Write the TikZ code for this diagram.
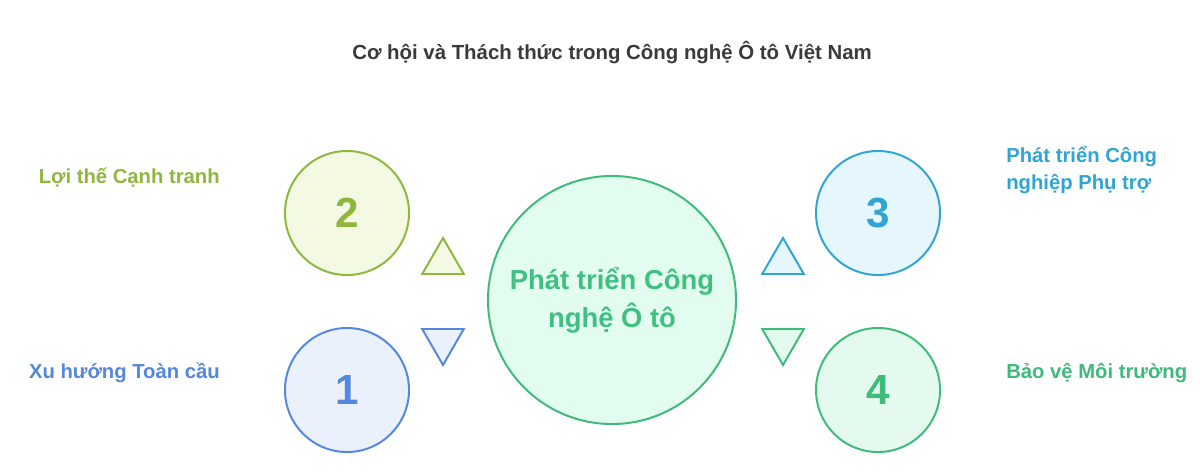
\documentclass[tikz,border=0pt]{standalone}
\usepackage{fontspec}
\setmainfont{Liberation Sans}
\usepackage{xcolor}
\usetikzlibrary{shapes.geometric, positioning}
\definecolor{titlegray}{HTML}{3A3A3A}
\definecolor{oliveline}{HTML}{8FB63E}
\definecolor{olivefill}{HTML}{F4F9E3}
\definecolor{blueline}{HTML}{5487DD}
\definecolor{bluefill}{HTML}{EBF1FC}
\definecolor{cyanline}{HTML}{30A4D3}
\definecolor{cyanfill}{HTML}{E6F6FD}
\definecolor{greenline}{HTML}{3EBA7A}
\definecolor{greenfill}{HTML}{E4FAEE}
\definecolor{hubfill}{HTML}{E3FCF0}
\definecolor{hubtext}{HTML}{40C080}
\tikzset{
    stage/.style={
        circle,
        draw,
        line width=1.4pt,
        minimum size=3.1cm,
        inner sep=0pt,
        font=\fontsize{30}{30}\selectfont\bfseries
    },
    hub/.style={
        circle,
        draw=greenline,
        fill=hubfill,
        line width=1.4pt,
        minimum size=6.2cm,
        inner sep=0pt,
        align=center,
        text=hubtext,
        font=\fontsize{19.5}{27}\selectfont\bfseries
    },
    flag/.style={
        font=\fontsize{14.4}{19.5}\selectfont\bfseries,
        align=left,
        inner sep=0pt
    },
    uptri/.style={
        regular polygon,
        regular polygon sides=3,
        draw,
        line width=1.4pt,
        minimum size=1.2cm,
        inner sep=0pt
    },
    downtri/.style={
        uptri,
        shape border rotate=180
    }
}
\begin{document}
\begin{tikzpicture}[x=0.025cm, y=-0.025cm]

\fill[white] (0,0) rectangle (1200,474);
\useasboundingbox (0,0) rectangle (1200,474);

% Title
\node[font=\fontsize{14.5}{17}\selectfont\bfseries, text=titlegray] (title) at (612,53) {Cơ hội và Thách thức trong Công nghệ Ô tô Việt Nam};

% Center circle
\node[hub] (hub) at (612,300) {Phát triển Công\\nghệ Ô tô};

% Numbered circles
\node[stage, draw=oliveline, fill=olivefill, text=oliveline] (two) at (347,213) {2};
\node[stage, draw=blueline, fill=bluefill, text=blueline] (one) at (347,390) {1};
\node[stage, draw=cyanline, fill=cyanfill, text=cyanline] (three) at (878,213) {3};
\node[stage, draw=greenline, fill=greenfill, text=greenline] (four) at (878,390) {4};

% Triangles
\node[uptri, draw=oliveline, fill=olivefill] (tritwo) at (443,262) {};
\node[downtri, draw=blueline, fill=bluefill] (trione) at (443,341) {};
\node[uptri, draw=cyanline, fill=cyanfill] (trithree) at (783,262) {};
\node[downtri, draw=greenline, fill=greenfill] (trifour) at (783,341) {};

% Labels
\node[flag, anchor=east, text=oliveline] (lbltwo) at (220,178) {Lợi thế Cạnh tranh};
\node[flag, anchor=east, text=blueline] (lblone) at (220,373) {Xu hướng Toàn cầu};
\node[flag, anchor=west, text=cyanline] (lblthree) at (1006,170) {Phát triển Công\\nghiệp Phụ trợ};
\node[flag, anchor=west, text=greenline] (lblfour) at (1006,373) {Bảo vệ Môi trường};

\end{tikzpicture}
\end{document}
